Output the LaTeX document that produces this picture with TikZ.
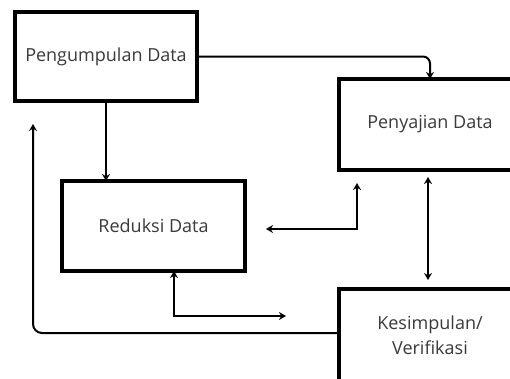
\documentclass[tikz,border=0pt]{standalone}
\usepackage{fontspec}
\setmainfont{Open Sans}
\usetikzlibrary{arrows.meta}
\definecolor{txt}{HTML}{3A3A3A}
\tikzset{
  box/.style={draw=black, line width=4.5pt, fill=white, text=txt, align=center,
    font=\fontsize{18}{25}\selectfont, inner sep=0pt, outer sep=0pt},
  conn/.style={line width=2pt, -{Stealth[length=7pt,width=8pt]}},
  dconn/.style={line width=2pt, {Stealth[length=7pt,width=8pt]}-{Stealth[length=7pt,width=8pt]}}
}
\begin{document}
\begin{tikzpicture}[x=1pt,y=-1pt]
\useasboundingbox (0,0) rectangle (510,378);
\begin{scope}
\clip (0,0) rectangle (510,378);
\node[box, minimum width=182pt, minimum height=89pt] (P) at (106,56.5) {Pengumpulan Data};
\node[box, minimum width=182pt, minimum height=91pt] (S) at (430,124.5) {Penyajian Data};
\node[box, minimum width=183pt, minimum height=90pt] (R) at (153.5,226) {Reduksi Data};
\node[box, minimum width=182pt, minimum height=92pt] (K) at (430,335) {Kesimpulan/\\Verifikasi};

\coordinate (m1) at (266,229);
\coordinate (m2) at (357,183);
\coordinate (b1) at (286,316);
\coordinate (f1) at (33,124);
\coordinate (v1) at (428,177);
\coordinate (v2) at (428,280);

\draw[conn, rounded corners=7pt] (P.east) -| (S.north);
\draw[conn] (P.south) -- (P.south |- R.north);
\draw[dconn] (m1) -| (m2);
\draw[dconn] (v1) -- (v2);
\draw[dconn] (b1) -| (174,0 |- R.south);
\draw[conn, rounded corners=9pt] (K.west |- 0,333) -| (f1);
\end{scope}
\end{tikzpicture}
\end{document}
